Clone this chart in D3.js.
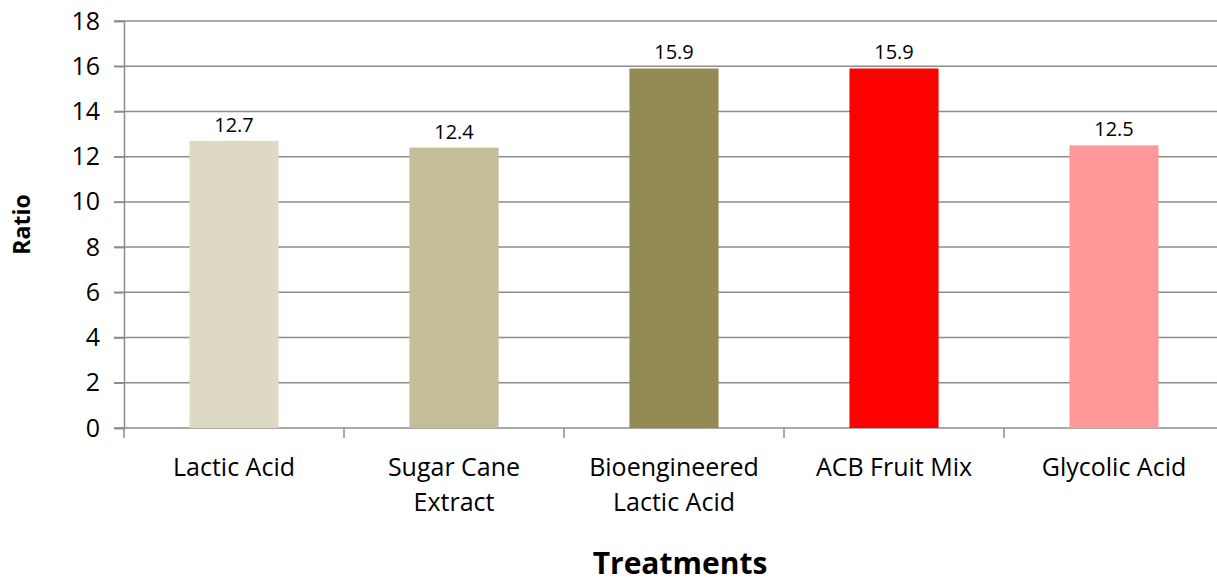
<!DOCTYPE html>
<html>
<head>
<meta charset="utf-8">
<script src="https://cdn.jsdelivr.net/npm/d3@7"></script>
<style>
  body { margin: 0; background: #fff; }
  svg { font-family: "Open Sans", sans-serif; }
</style>
</head>
<body>
<div class="chart"></div>
<script>
var w = 1217;
var h = 584;

// data
var categories = ["Lactic Acid", "Sugar Cane Extract", "Bioengineered Lactic Acid", "ACB Fruit Mix", "Glycolic Acid"];
var catLines = [["Lactic Acid"], ["Sugar Cane", "Extract"], ["Bioengineered", "Lactic Acid"], ["ACB Fruit Mix"], ["Glycolic Acid"]];
var values = [12.7, 12.4, 15.9, 15.9, 12.5];
var colors = ["#ddd9c3", "#c4bd97", "#948a54", "#ff0000", "#ff9999"];
var yTicks = [0, 2, 4, 6, 8, 10, 12, 14, 16, 18];

var margin = {left: 124, top: 21, bottom: 156};
var plotW = 1100;

var svg = d3.select(".chart")
    .append("svg")
    .attr("width", w)
    .attr("height", h);

var x = d3.scaleBand()
    .domain(categories)
    .range([margin.left, margin.left + plotW])
    .paddingInner(0.595)
    .paddingOuter(0.2975);

var y = d3.scaleLinear()
    .domain([0, 18])
    .range([h - margin.bottom, margin.top]);

// gridlines
svg.append("g")
    .selectAll("line")
    .data(yTicks)
    .enter()
    .append("line")
    .attr("x1", margin.left - 10)
    .attr("x2", margin.left + plotW)
    .attr("y1", function(d) { return y(d); })
    .attr("y2", function(d) { return y(d); })
    .attr("stroke", "#8c8c8c")
    .attr("stroke-width", 1.5);

// y axis
var yAxis = svg.append("g")
    .attr("transform", "translate(" + margin.left + ",0)")
    .call(d3.axisLeft(y).tickValues(yTicks).tickSize(10).tickPadding(14));
yAxis.select(".domain").attr("stroke", "#8c8c8c").attr("stroke-width", 1.5);
yAxis.selectAll(".tick line").attr("stroke", "#8c8c8c").attr("stroke-width", 1.5);
yAxis.selectAll("text").attr("font-size", 25).attr("fill", "#000")
    .style("font-family", "'Open Sans', sans-serif");

// x axis ticks between categories
var step = x.step();
var bounds = d3.range(categories.length + 1).map(function(i) { return margin.left + i * step; });
svg.append("g")
    .selectAll("line")
    .data(bounds)
    .enter()
    .append("line")
    .attr("x1", function(d) { return d; })
    .attr("x2", function(d) { return d; })
    .attr("y1", y(0))
    .attr("y2", y(0) + 10)
    .attr("stroke", "#8c8c8c")
    .attr("stroke-width", 1.5);

// bars
svg.append("g")
    .selectAll("rect")
    .data(values)
    .enter()
    .append("rect")
    .attr("x", function(d, i) { return x(categories[i]); })
    .attr("width", x.bandwidth())
    .attr("y", function(d) { return y(d); })
    .attr("height", function(d) { return y(0) - y(d); })
    .attr("fill", function(d, i) { return colors[i]; });

// value labels
svg.append("g")
    .selectAll("text")
    .data(values)
    .enter()
    .append("text")
    .attr("x", function(d, i) { return x(categories[i]) + x.bandwidth() / 2; })
    .attr("y", function(d) { return y(d) - 9; })
    .attr("text-anchor", "middle")
    .attr("font-size", 20)
    .text(function(d) { return d.toFixed(1); });

// category labels
var cat = svg.append("g")
    .selectAll("text")
    .data(catLines)
    .enter()
    .append("text")
    .attr("x", function(d, i) { return x(categories[i]) + x.bandwidth() / 2; })
    .attr("y", y(0) + 48)
    .attr("text-anchor", "middle")
    .attr("font-size", 25);
cat.selectAll("tspan")
    .data(function(d) { return d; })
    .enter()
    .append("tspan")
    .attr("x", function() { return d3.select(this.parentNode).attr("x"); })
    .attr("dy", function(d, i) { return i === 0 ? 0 : 35; })
    .text(function(d) { return d; });

// axis titles
svg.append("text")
    .attr("transform", "translate(30," + y(9) + ") rotate(-90)")
    .attr("text-anchor", "middle")
    .attr("font-size", 23)
    .attr("font-weight", "bold")
    .text("Ratio");

svg.append("text")
    .attr("x", 680)
    .attr("y", 574)
    .attr("text-anchor", "middle")
    .attr("font-size", 30)
    .attr("font-weight", "bold")
    .text("Treatments");
</script>
</body>
</html>
